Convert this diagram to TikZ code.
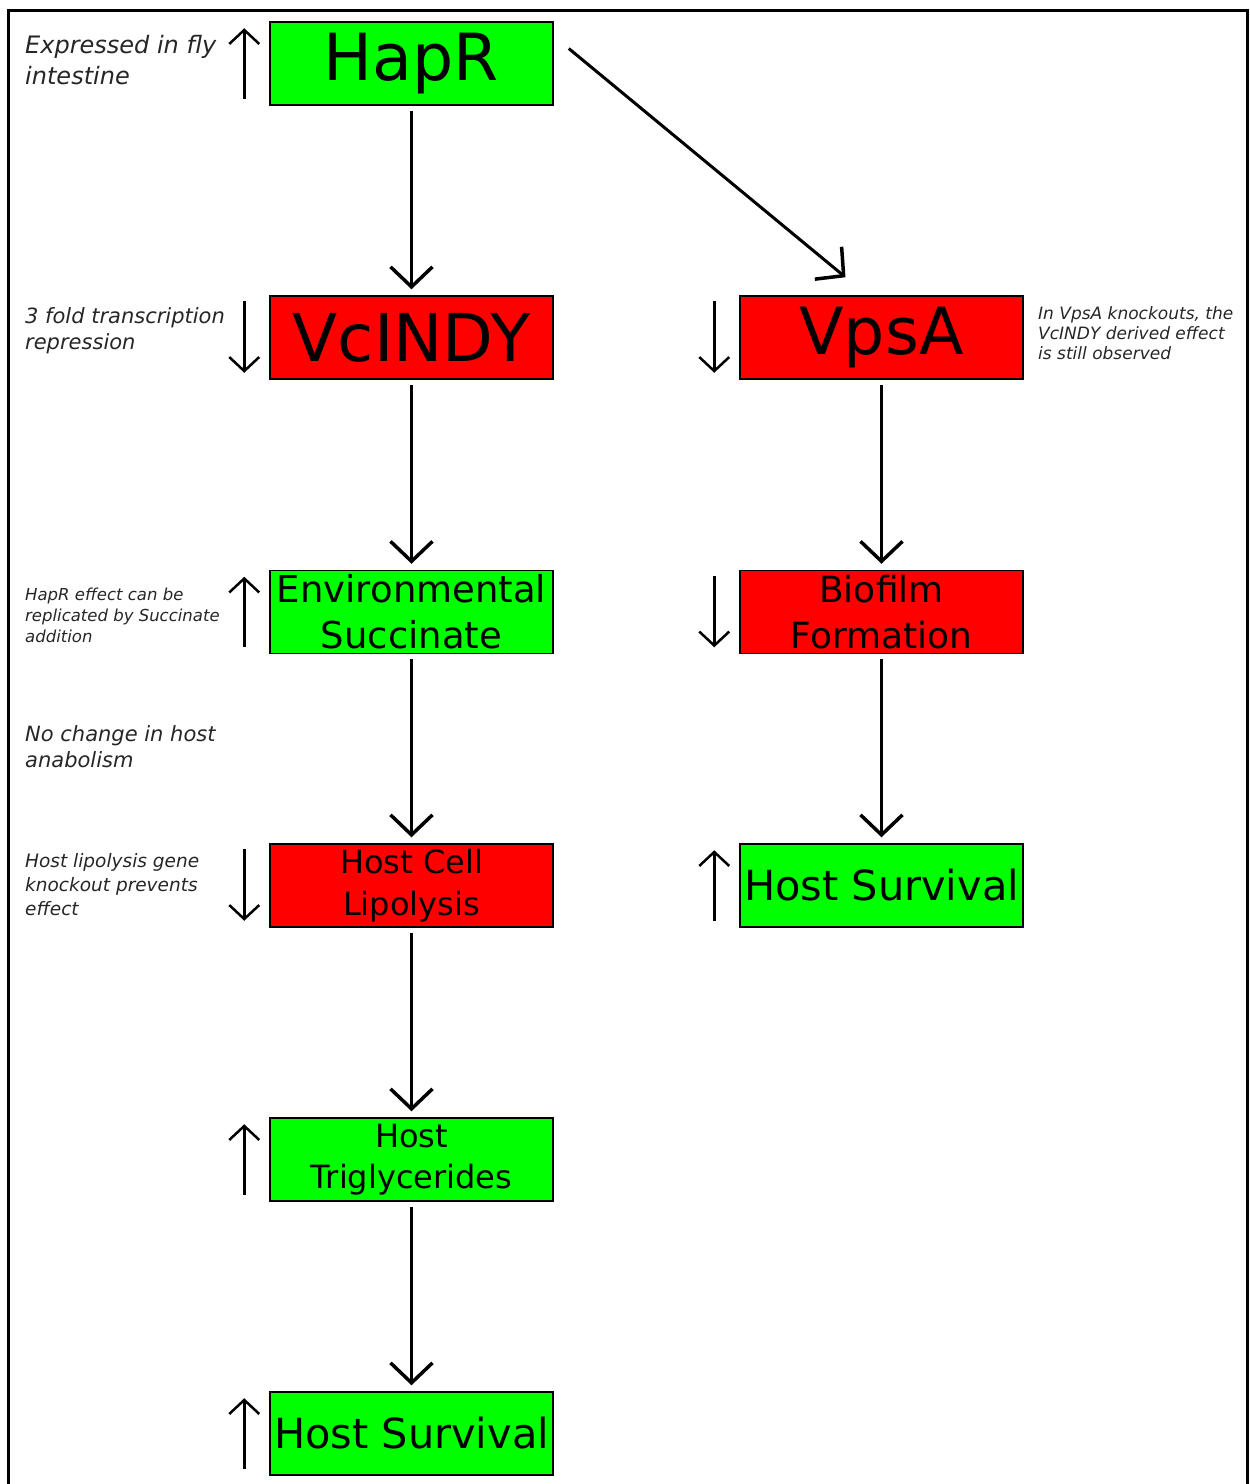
\documentclass[tikz,border=0pt]{standalone}
\usepackage{fontspec}
\setmainfont{DejaVu Sans}
\usetikzlibrary{arrows.meta,positioning}
\definecolor{upgreen}{RGB}{0,255,0}
\definecolor{downred}{RGB}{255,0,0}
\newcommand{\fsz}[2]{\fontsize{#1}{#2}\selectfont}
\tikzset{
  box/.style={draw=black, line width=1.5pt, minimum width=283pt,
    minimum height=83pt, inner sep=0pt, align=center, text=black},
  upbox/.style={box, fill=upgreen},
  downbox/.style={box, fill=downred},
  flow/.style={-{Straight Barb[length=20pt,width=42pt,line width=3.5pt]}, line width=3pt},
  change/.style={-{Straight Barb[length=14pt,width=30pt]}, line width=2.5pt},
  note/.style={anchor=north west, align=left, inner sep=0pt,
    font=\itshape, text=black!85}
}
\begin{document}
\begin{tikzpicture}[x=1pt,y=-1pt]
\useasboundingbox (0,0) rectangle (1250,1484);
\draw[line width=3pt] (8,1490) -- (8,10) -- (1247,10) -- (1247,1490);
% left column
\node[upbox,font=\fsz{65}{70}]   (hapr)   at (411.5,63.5)  {HapR};
\node[downbox,font=\fsz{66}{70}] (vcindy) at (411.5,337.5) {VcINDY};
\node[upbox,font=\fsz{37}{46}]   (succ)   at (411.5,612)   {Environmental\\Succinate};
\node[downbox,font=\fsz{32}{42}] (lipo)   at (411.5,885.5) {Host Cell\\Lipolysis};
\node[upbox,font=\fsz{32}{41}]   (trig)   at (411.5,1159.5) {Host\\Triglycerides};
\node[upbox,font=\fsz{41.5}{46}] (survl)  at (411.5,1433.5) {Host Survival};
% right column
\node[downbox,font=\fsz{65}{70}] (vpsa)   at (881.5,337.5) {VpsA};
\node[downbox,font=\fsz{36}{46}] (bio)    at (881.5,612)   {Biofilm\\Formation};
\node[upbox,font=\fsz{41.5}{46}] (survr)  at (881.5,885.5) {Host Survival};
% flow
\draw[flow] ([yshift=-5pt]hapr.south) -- ([yshift=6pt]vcindy.north);
\draw[flow] ([yshift=-5pt]vcindy.south) -- ([yshift=6pt]succ.north);
\draw[flow] ([yshift=-5pt]succ.south) -- ([yshift=6pt]lipo.north);
\draw[flow] ([yshift=-5pt]lipo.south) -- ([yshift=6pt]trig.north);
\draw[flow] ([yshift=-5pt]trig.south) -- ([yshift=6pt]survl.north);
\draw[flow] ([xshift=15pt,yshift=15pt]hapr.east) -- ([xshift=-36pt,yshift=18pt]vpsa.north);
\draw[flow] ([yshift=-5pt]vpsa.south) -- ([yshift=6pt]bio.north);
\draw[flow] ([yshift=-5pt]bio.south) -- ([yshift=6pt]survr.north);
% up / down changes
\draw[change] ([xshift=-25pt,yshift=7pt]hapr.south west) -- ([xshift=-25pt,yshift=-7pt]hapr.north west);
\draw[change] ([xshift=-25pt,yshift=-6pt]vcindy.north west) -- ([xshift=-25pt,yshift=7pt]vcindy.south west);
\draw[change] ([xshift=-25pt,yshift=7pt]succ.south west) -- ([xshift=-25pt,yshift=-7pt]succ.north west);
\draw[change] ([xshift=-25pt,yshift=-6pt]lipo.north west) -- ([xshift=-25pt,yshift=7pt]lipo.south west);
\draw[change] ([xshift=-25pt,yshift=7pt]trig.south west) -- ([xshift=-25pt,yshift=-7pt]trig.north west);
\draw[change] ([xshift=-25pt,yshift=7pt]survl.south west) -- ([xshift=-25pt,yshift=-7pt]survl.north west);
\draw[change] ([xshift=-25pt,yshift=-6pt]vpsa.north west) -- ([xshift=-25pt,yshift=7pt]vpsa.south west);
\draw[change] ([xshift=-25pt,yshift=-6pt]bio.north west) -- ([xshift=-25pt,yshift=7pt]bio.south west);
\draw[change] ([xshift=-25pt,yshift=7pt]survr.south west) -- ([xshift=-25pt,yshift=-7pt]survr.north west);
% notes
\node[note,font=\itshape\fsz{24}{31}]   (nhapr) at (25,35)  {Expressed in fly\\intestine};
\node[note,font=\itshape\fsz{21}{26}]   (nvc)   at (25,307) {3 fold transcription\\repression};
\node[note,font=\itshape\fsz{16.5}{21}] (nsucc) at (25,588) {HapR effect can be\\replicated by Succinate\\addition};
\node[note,font=\itshape\fsz{21}{26}]   (nana)  at (25,725) {No change in host\\anabolism};
\node[note,font=\itshape\fsz{18.5}{24}] (nlipo) at (25,853) {Host lipolysis gene\\knockout prevents\\effect};
\node[note,font=\itshape\fsz{17}{20}]   (nvps)  at (1038,306) {In VpsA knockouts, the\\VcINDY derived effect\\is still observed};
\end{tikzpicture}
\end{document}
